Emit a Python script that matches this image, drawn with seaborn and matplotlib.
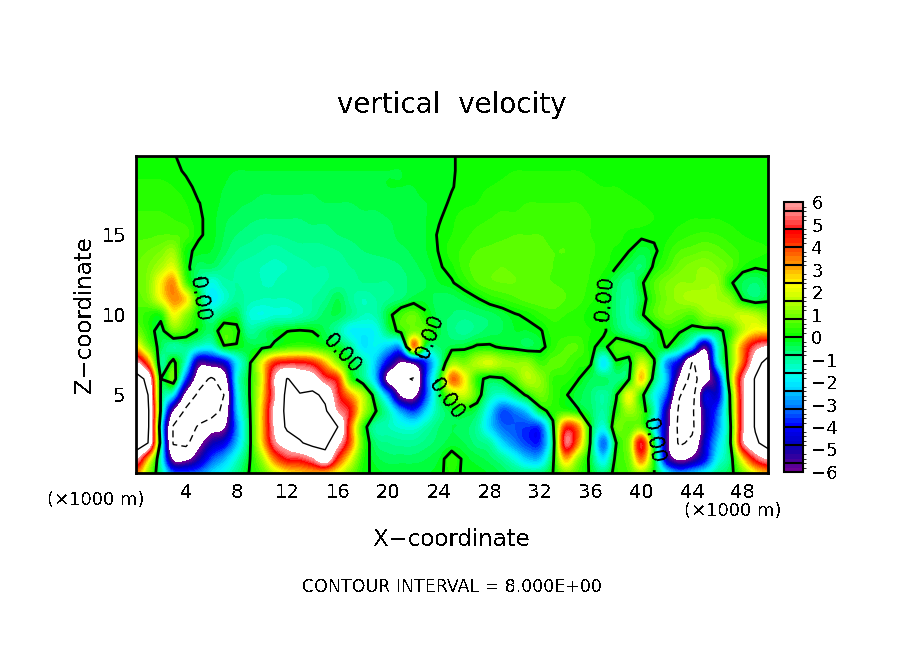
import numpy as np
import pandas as pd
import matplotlib
matplotlib.use('Agg')
import matplotlib.pyplot as plt
from matplotlib.colors import BoundaryNorm, ListedColormap
import seaborn as sns

# Data: vertical velocity, every 1 km in x and z
x_km = list(range(0, 51))
z_km = list(range(20, -1, -1))
w_rows = [
    [.1,.1,.1,.01,-.05, -.05,-.05,-.1,-.1,-.1, -.1,-.1,-.1,-.1,-.1, -.1,-.1,-.1,-.1,-.1, -.1,-.1,-.1,-.05,-.05, -.02,.05,.05,.05,.05, .05,.05,.05,.05,.05, .05,.05,.05,.05,.05, .05,.05,.05,.05,.05, .05,.05,.05,.05,.05, .05],
    [.15,.15,.15,.1,-.05, -.1,-.1,-.15,-.2,-.2, -.2,-.2,-.2,-.2,-.2, -.2,-.2,-.2,-.2,-.2, -.2,-.2,-.1,-.1,-.05, -.02,.05,.1,.1,.15, .2,.2,.2,.2,.2, .2,.15,.1,.1,.1, .05,.05,.05,.05,.05, .05,.05,.05,.05,.05, .05],
    [.25,.25,.25,.2,.1, -.1,-.15,-.2,-.3,-.3, -.35,-.35,-.35,-.35,-.35, -.3,-.3,-.3,-.25,-.25, -.2,-.2,-.2,-.1,-.05, -.02,.1,.15,.2,.25, .3,.3,.3,.3,.3, .3,.25,.2,.2,.15, .1,.1,.05,.05,.05, .05,.05,.05,.05,.05, .05],
    [.35,.35,.35,.3,.2, .01,-.1,-.25,-.35,-.4, -.45,-.45,-.45,-.45,-.45, -.4,-.4,-.4,-.35,-.35, -.3,-.3,-.25,-.2,-.1, .05,.15,.2,.3,.35, .35,.4,.4,.4,.4, .4,.35,.3,.3,.25, .2,.15,.1,.1,.1, .1,.1,.05,.05,.05, .05],
    [.45,.45,.45,.4,.3, .05,-.1,-.35,-.45,-.55, -.6,-.6,-.6,-.6,-.55, -.55,-.5,-.5,-.45,-.45, -.4,-.35,-.3,-.2,-.03, .15,.3,.35,.4,.45, .45,.5,.5,.5,.5, .45,.4,.35,.3,.3, .25,.2,.15,.15,.2, .2,.2,.15,.1,.1, .1],
    [.55,.55,.6,.6,.5, .05,-.1,-.4,-.6,-.7, -.8,-.8,-.75,-.7,-.7, -.7,-.6,-.55,-.5,-.5, -.45,-.35,-.3,-.2,.05, .2,.35,.45,.5,.55, .6,.6,.6,.55,.55, .5,.4,.35,.3,.15, .1,.1,.15,.3,.4, .45,.4,.3,.2,.15, .15],
    [.7,.8,1,1.3,.1, -.1,-.2,-.5,-.8,-.9, -1,-1.1,-1,-.9,-.9, -.85,-.8,-.7,-.6,-.55, -.5,-.45,-.35,-.2,.02, .3,.45,.6,.65,.7, .7,.7,.65,.6,.6, .55,.45,.3,.15,.01, -.3,-.1,.3,.6,.7, .8,.7,.5,.35,.25, .2],
    [.8,1,1.5,2,.2, -.5,-.5,-.8,-1,-1.1, -1.2,-1.25,-1.2,-1.1,-1, -1,-.9,-.8,-.75,-.75, -.7,-.6,-.45,-.3,-.05, .15,.5,.7,.75,.8, .75,.7,.65,.6,.55, .55,.4,.25,.01,-.4, -.6,.1,.5,.9,1.1, 1.2,1,.7,.2,.05, .1],
    [.8,1.1,2.4,3.3,.7, -.7,-1.6,-1.1,-1,-1.1, -1.2,-1.2,-1.1,-1.1,-1.1, -1,-.9,-.9,-.8,-.8, -.8,-.7,-.5,-.4,-.2, -.05,.25,.6,.75,.8, .8,.7,.65,.6,.55, .5,.35,.05,-.5,-.9, -.1,.6,1,1.2,1.2, 1.3,1.3,.1,-.4,-.6, -.3],
    [.7,1,2.2,3.3,2.6, .05,-1.9,-1.4,-.9,-1.1, -1.2,-1.2,-1.2,-1.1,-1, -.8,-.4,-.9,-1.2,-1, -.8,-.6,-.3,-.3,-.5, -.5,-.3,-.05,.25,.4, .55,.7,.75,.75,.6, .5,.25,.05,-.6,-1, -.3,.5,1,1.3,1.5, 1.5,1.4,1.1,-.1,-.5, -.2],
    [.6,.3,.2,2.2,1.2, .05,-1,-.5,-.3,-1.4, -1.6,-1.4,-1.4,-1.2,-.9, -.5,-.4,-.8,-1.2,-1.1, -.2,.5,.8,.1,-.5, -.6,-.7,-.6,-.5,-.3, -.05,.1,.35,.5,.4, .3,.1,.05,-.6,-1, -.1,.6,1,.8,.6, 1.2,1.4,1.5,1.8,1.6, 1],
    [1,.3,-.3,.9,.5, -.1,-.5,.5,.2,-.9, -.6,-.2,-.02,.05,-.02, -.4,-1,-1.8,-1.9,-1.7, -.5,.3,1,.6,-.3, -.7,-.9,-.7,-.5,-.4, -.2,-.2,-.05,.3,.3, .3,.2,.1,-.4,-.9, -1,-.3,.3,.1,-.3, -.3,-.3,.4,1.7,2.5, 2.5],
    [2.8,1,-.4,-1,-.8, -1.4,-1.6,-.05,-.05,-.3, -.2,.1,.5,.6,.5, .2,-.1,-.9,-2,-1.8, -2.4,-2.5,3.4,-.5,-.6, -.3,-.2,.1,.1,-.1, -.2,-.4,-.2,.3,.6, .6,.1,-.2,.5,.5, .1,-.3,.05,-.8,-2.5, -5.5,-1.5,.8,3.4,5.4, 6.2],
    [6.5,3.8,-.8,.3,-1.5, -5.3,-5.2,-4.5,-2,-.2, 2.2,4.3,4.8,4.8,4.4, 3,1.2,-.1,-1,-2.4, -4.4,-6.1,-5.5,-3.6,-1.2, 1.2,1,1.6,1.9,1.4, 1.2,1.2,.5,.7,.6, .3,.05,-2,-.1,-.3, 1.8,.1,-2.8,-4.5,-8.1, -7.5,-2,.7,3.8,7, 9],
    [9,7.5,0,.8,-3.5, -7,-8.3,-7,-1.8,-.05, 2.2,6,8.1,7.2,6.8, 5.2,4.2,.5,-.7,-2.5, -6.5,-7.5,-8.2,-3.5,-.3, 3.6,2.4,.3,-.3,-.1, .7,1.6,1.2,.4,.3, .02,-.4,-.5,-.7,-.1, 2.8,-.5,-2.5,-6.3,-8.8, -6.8,-4.4,.9,5.6,8.2, 10],
    [9,8,-.05,-2,-6.5, -8.4,-8.8,-8,-2.2,-.05, 2.5,5.8,8.6,8.1,8.4, 7.6,5,3.2,1.6,-.6, -3,-6.2,-6.5,-3.4,-.6, 1.2,1.8,.5,-1,-1.4, -.7,.2,.9,.4,.05, -.3,-.6,-1,-.1,2.2, .3,-1.6,-3.5,-7.9,-8.8, -4.5,-4.4,.1,5.6,8.2, 10],
    [9.5,8.5,-.1,-6,-8.4, -9,-9,-7.5,-2.5,-.2, 2.8,6.4,8.6,8.8,8.8, 8.3,5.9,4.6,1.7,.05, -1.2,-2.8,-3.6,-2.2,-.9, -.3,-.1,-.5,-2,-3.4, -3,-2.2,-.3,.3,.4, .05,-.5,-1,.2,1.4, .6,-1.2,-5,-8.4,-8.4, -5,-3.4,-.02,5.6,8.2, 10],
    [9.5,8.5,-1,-8.2,-9, -7.8,-6.8,-6.2,-3,-.3, 2.8,6.2,8.4,8.8,8.8, 8.5,8,3.8,.4,-1, -1.2,-1.5,-1.6,-1.1,-.6, -.4,-.5,-.9,-2.2,-3.2, -3.4,-3.6,-3.4,-.2,4.2, 3.4,-.1,-1.5,.8,.6, .9,-1.8,-5.2,-8.6,-8.5, -5.1,-3,-.3,5.6,8.2, 10],
    [9.5,8,-.5,-8.2,-8.5, -6.5,-5,-4.3,-2.5,-.3, 2.6,5.6,6.8,7.8,8.6, 8.6,6.5,3.8,.6,-.6, -.8,-.9,-.9,-.7,-.5, -.3,-.4,-.7,-1,-2.2, -3,-3.6,-3.6,-.6,5.3, 3.4,-.2,-3.2,-.02,1.2, 4.8,-.2,-5.4,-8.4,-7.5, -4.6,-2.4,-.2,5.6,7.6, 9],
    [6.5,3,-1.2,-6.2,-6.3, -5,-3.5,-2.6,-1.4,-.1, 1.4,3.6,4.8,5,5.8, 7.2,4.4,2.2,.3,-.3, -.5,-.5,-.5,-.4,-.2, .3,-.1,-.3,-.5,-.9, -1.6,-2.4,-2.4,-.2,3, 1.2,-.3,-2,.3,.9, 3.6,.1,-4.7,-6.3,-5.6, -4.1,-1.8,-.6,2.6,5, 6.2],
    [3.5,1.2,-.8,-3,-3.2, -3,-2.2,-1.6,-.8,.05, .6,1.6,2.3,2.6,2.8, 2.6,2,1,.1,-.1, -.2,-.2,-.2,-.2,-.1, .2,-.1,-.1,-.2,-.4, -.6,-.7,-.6,.01,1, .5,-.1,-.6,.3,.6, 1.2,.01,-1.6,-2.6,-2.2, -1.6,-.8,-.3,.8,2, 2.8],
]
x_ticks = [4, 8, 12, 16, 20, 24, 28, 32, 36, 40, 44, 48]
z_ticks = [5, 10, 15]
cbar_ticks = [-6, -5, -4, -3, -2, -1, 0, 1, 2, 3, 4, 5, 6]

# colour at every 0.4 from -6 to 6
band_colors = ['#6e0096', '#46009b', '#1e00a5', '#0000c3', '#0000e1', '#0000ff', '#0040ff', '#0078ff',
               '#00a0ff', '#00d2ff', '#00f0ff', '#00ffe6', '#00ffb4', '#00ff8c', '#00ff50', '#00ff00',
               '#32ff00', '#64ff00', '#8cff00', '#b4ff00', '#dcff00', '#ffff00', '#ffd200', '#ffa000',
               '#ff7800', '#ff4b00', '#ff2300', '#ff0000', '#ff4646', '#ff7878', '#ff9696']

df = pd.DataFrame(w_rows, index=z_km, columns=x_km)

sns.set_style('white')
plt.rcParams['font.family'] = ['DejaVu Sans']
plt.rcParams['text.antialiased'] = False
plt.rcParams['text.color'] = 'k'
plt.rcParams['xtick.color'] = 'k'
plt.rcParams['ytick.color'] = 'k'

fig = plt.figure(figsize=(9.04, 6.54), dpi=100)
W, H = 904.0, 654.0
ax = fig.add_axes([136 / W, 1 - 473 / H, 632 / W, 317 / H])
cax = fig.add_axes([784 / W, 1 - 472 / H, 19 / W, 270 / H])

levels = np.arange(-6, 6.01, 0.2)
cmap = ListedColormap(sns.blend_palette(band_colors, n_colors=len(levels) - 1))
cmap.set_over('white')
cmap.set_under('white')
norm = BoundaryNorm(levels, cmap.N)

# Base field and colour bar
sns.heatmap(df, ax=ax, cbar_ax=cax, cmap=cmap, norm=norm, xticklabels=False, yticklabels=False)

# Same cells again, drawn smooth on top of the heatmap
vals = df.values
ax.imshow(vals, extent=(0, 51, 21, 0), aspect='auto', cmap=cmap, norm=norm,
          interpolation='catrom', interpolation_stage='data', zorder=1.5)

xc = np.arange(len(x_km)) + 0.5
yc = np.arange(len(z_km)) + 0.5
cs0 = ax.contour(xc, yc, vals, levels=[0], colors='k', linewidths=2.0)
ax.contour(xc, yc, vals, levels=[8], colors='k', linewidths=1.0, linestyles='-')
ax.contour(xc, yc, vals, levels=[-8], colors='k', linewidths=1.0, linestyles=[(0, (5, 3))])
ax.clabel(cs0, fmt='%.2f', fontsize=15, inline=True,
          manual=[(5.5, 9.5), (17, 12.8), (23.9, 11.9), (25.5, 15.5), (38, 9.5), (41.5, 18.3)])

# Axes
ax.set_xlim(0.55, 50.5)
ax.set_ylim(20.38, 0.57)
ax.set_xticks([t + 0.5 for t in x_ticks])
ax.set_xticklabels([str(t) for t in x_ticks], fontsize=14)
ax.set_xticks([t + 0.5 for t in range(2, 51, 4)], minor=True)
ax.set_yticks([20.5 - t for t in z_ticks])
ax.set_yticklabels([str(t) for t in z_ticks], fontsize=14)
ax.set_yticks([20.5 - t for t in range(1, 20) if t % 5], minor=True)
ax.tick_params(which='major', direction='in', length=8, width=1.5, top=True, right=True, bottom=True, left=True, pad=7)
ax.tick_params(which='minor', direction='in', length=4, width=1.0, top=True, right=True, bottom=True, left=True)
for spine in ax.spines.values():
    spine.set_visible(True)
    spine.set_linewidth(2)
    spine.set_color('k')

# Colour bar
cb = ax.collections[0].colorbar
cb.set_ticks(cbar_ticks)
cb.set_ticklabels([str(t).replace('-', '\u2212') for t in cbar_ticks])
cax.tick_params(length=0, labelsize=13, pad=6)
cb.outline.set_visible(True)
cb.outline.set_linewidth(1.5)
cb.outline.set_edgecolor('k')
for b in np.arange(-5.6, 5.7, 0.8):
    cax.axhline(b, color='k', lw=1.5)

# Text
fig.text(452 / W, 1 - 105 / H, 'vertical  velocity', fontsize=20, ha='center', va='center')
fig.text(452 / W, 1 - 540 / H, 'X\u2212coordinate', fontsize=16.5, ha='center', va='center')
fig.text(84 / W, 1 - 315 / H, 'Z\u2212coordinate', fontsize=16.5, ha='center', va='center', rotation=90)
fig.text(452 / W, 1 - 587 / H, 'CONTOUR INTERVAL = 8.000E+00', fontsize=12.5, ha='center', va='center')
fig.text(96 / W, 1 - 500 / H, '(\u00d71000 m)', fontsize=13, ha='center', va='center')
fig.text(733 / W, 1 - 511 / H, '(\u00d71000 m)', fontsize=13, ha='center', va='center')

fig.savefig('out.png', dpi=100)
